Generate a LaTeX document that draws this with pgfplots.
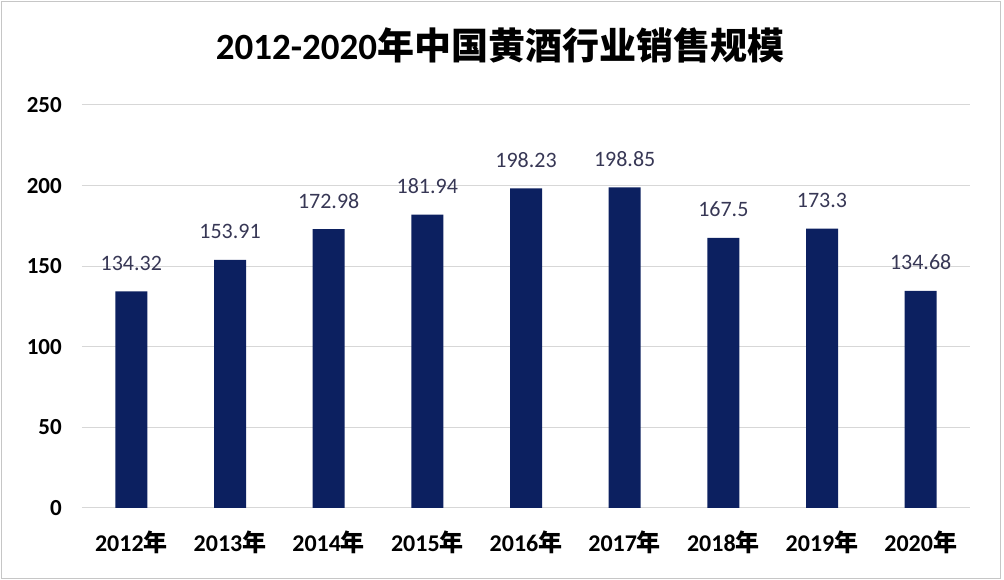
\documentclass[border=0pt]{standalone}
\usepackage{fontspec}
\setmainfont{Carlito}
\newfontfamily\cjk{Noto Sans CJK SC}
\usepackage{pgfplots}
\pgfplotsset{compat=1.18}
\definecolor{barnavy}{RGB}{12,32,96}
\definecolor{lbl}{RGB}{55,55,85}
\definecolor{gridc}{RGB}{215,215,215}
\begin{document}
\begin{tikzpicture}
\path[use as bounding box] (-82pt,-72pt) rectangle (922pt,508pt);
\draw[gray!45,line width=1pt] (-80.5pt,-70.5pt) rectangle (918pt,506.5pt);
\node[font=\fontsize{37}{40}\selectfont\bfseries] at (418pt,463pt) {2012-2020{\cjk 年中国黄酒行业销售规模}};
\begin{axis}[
  at={(0pt,0pt)}, anchor=south west,
  scale only axis, width=888pt, height=403pt,
  xmin=-0.5, xmax=8.5, ymin=0, ymax=250,
  ytick={0,50,...,250},
  xtick=data,
  xticklabels={2012{\cjk 年},2013{\cjk 年},2014{\cjk 年},2015{\cjk 年},2016{\cjk 年},2017{\cjk 年},2018{\cjk 年},2019{\cjk 年},2020{\cjk 年}},
  axis line style={draw=none},
  major tick style={draw=none},
  ymajorgrids, grid style={gridc, line width=1pt},
  /pgf/number format/assume math mode=true,
  yticklabel style={font=\fontsize{23}{26}\selectfont\bfseries, anchor=east, inner sep=0pt, xshift=-20pt},
  xticklabel style={font=\fontsize{24}{27}\selectfont\bfseries, anchor=base, inner sep=0pt, yshift=-44pt},
  nodes near coords,
  every node near coord/.append style={font=\fontsize{22}{25}\selectfont, text=lbl, anchor=base, inner sep=0pt, yshift=21pt},
  point meta=explicit symbolic,
]
\addplot[ybar, bar width=32pt, fill=barnavy, draw=none,
  nodes near coords={\pgfplotspointmeta}]
  table[meta=lab] {
x y lab
0 134.32 134.32
1 153.91 153.91
2 172.98 172.98
3 181.94 181.94
4 198.23 198.23
5 198.85 198.85
6 167.5 167.5
7 173.3 173.3
8 134.68 134.68
};
\end{axis}
\end{tikzpicture}
\end{document}
